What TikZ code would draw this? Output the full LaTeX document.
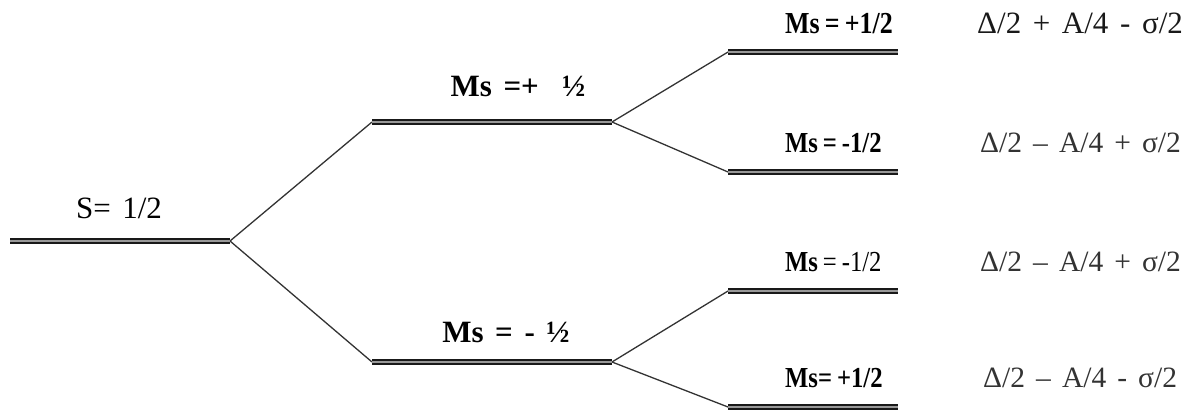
\documentclass[tikz,border=0pt]{standalone}
\usepackage{fontspec}
\setmainfont{Liberation Serif}
\newfontfamily\wideword[WordSpace=1.5]{Liberation Serif}
\newfontfamily\narrowfont[FakeStretch=0.85,WordSpace=0.8]{Liberation Serif}
\begin{document}
\begin{tikzpicture}[x=1pt,y=-1pt,
  level/.style={draw=black!90,line width=2.4pt,double=black!40,double distance=1.5pt},
  conn/.style={draw=black!80,line width=1.3pt},
  lbl/.style={anchor=base,inner sep=0pt,font=\wideword\fontsize{31}{34}\selectfont},
  lblw/.style={anchor=base west,inner sep=0pt,font=\narrowfont\fontsize{29}{32}\selectfont},
  frm/.style={anchor=base west,inner sep=0pt,text=black!80,font=\wideword\fontsize{29.5}{33}\selectfont}]
\useasboundingbox (0,0) rectangle (1184,415);
% levels
\coordinate (s0l) at (10,241);  \coordinate (s0r) at (230,241);
\coordinate (u1l) at (372,122); \coordinate (u1r) at (612,122);
\coordinate (d1l) at (372,362); \coordinate (d1r) at (612,362);
\coordinate (a1l) at (728,52);  \coordinate (a1r) at (898,52);
\coordinate (a2l) at (728,172); \coordinate (a2r) at (898,172);
\coordinate (a3l) at (728,291); \coordinate (a3r) at (898,291);
\coordinate (a4l) at (728,407); \coordinate (a4r) at (898,407);
\draw[conn] (s0r) -- (u1l);
\draw[conn] (s0r) -- (d1l);
\draw[conn] (u1r) -- (a1l);
\draw[conn] (u1r) -- (a2l);
\draw[conn] (d1r) -- (a3l);
\draw[conn] (d1r) -- (a4l);
\draw[level] (s0l) -- (s0r);
\draw[level] (u1l) -- (u1r);
\draw[level] (d1l) -- (d1r);
\draw[level] (a1l) -- (a1r);
\draw[level] (a2l) -- (a2r);
\draw[level] (a3l) -- (a3r);
\draw[level] (a4l) -- (a4r);
% labels
\node[lbl] (ls) at (119,218) {S= 1/2};
\node[lbl] (lu) at (518,96) {\textbf{Ms =+\ \ ½}};
\node[lbl] (ld) at (506,342) {\textbf{Ms = - ½}};
\node[lblw,font=\narrowfont\fontsize{30.5}{33}\selectfont] (l1) at (785,33) {\textbf{Ms = +1/2}};
\node[lblw] (l2) at (785,152) {\textbf{Ms = -1/2}};
\node[lblw] (l3) at (785,271) {\textbf{Ms} = -1/2};
\node[lblw] (l4) at (785,387) {\textbf{Ms= +1/2}};
% energies
\node[frm,text=black!90,font=\wideword\fontsize{31}{34}\selectfont] (e1) at (977,33) {Δ/2 + A/4 - σ/2};
\node[frm] (e2) at (980,152) {Δ/2 – A/4 + σ/2};
\node[frm] (e3) at (980,271) {Δ/2 – A/4 + σ/2};
\node[frm] (e4) at (983,387) {Δ/2 – A/4 - σ/2};
\end{tikzpicture}
\end{document}
